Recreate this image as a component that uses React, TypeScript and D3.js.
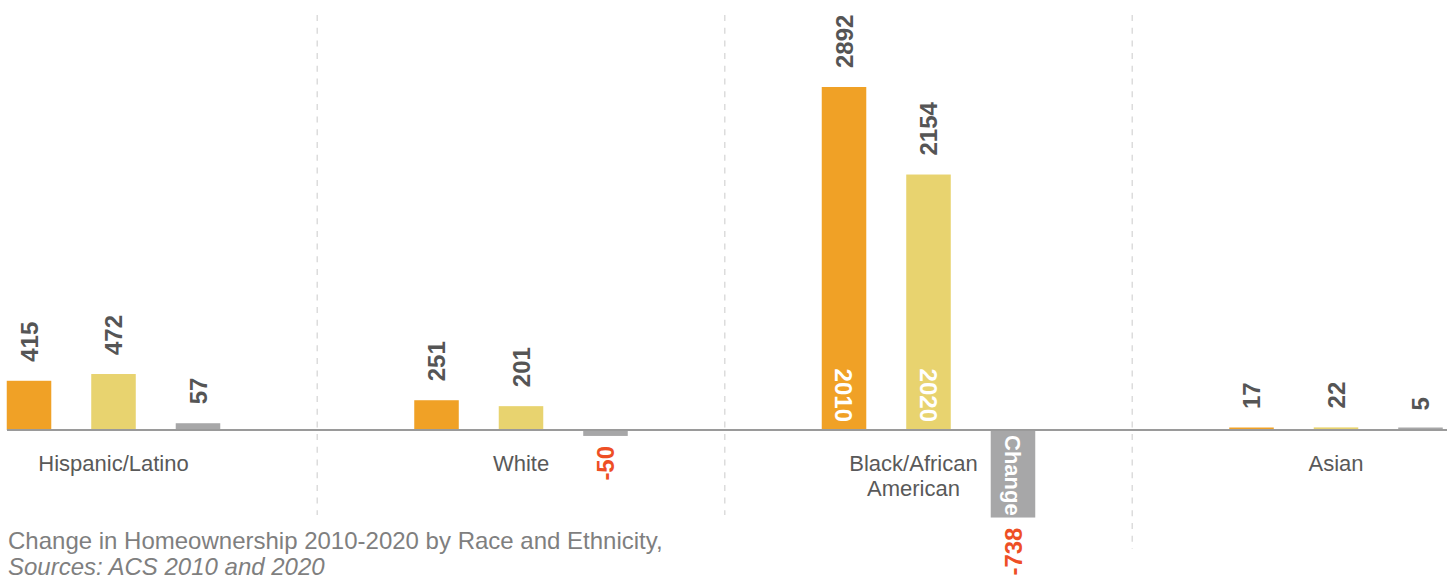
import React from "react";
import * as d3 from "d3";

const categories = ["Hispanic/Latino", "White", "Black/African American", "Asian"];
const categoryLines = [["Hispanic/Latino"], ["White"], ["Black/African", "American"], ["Asian"]];
const seriesNames = ["2010", "2020", "Change"];
const values2010 = [415, 251, 2892, 17];
const values2020 = [472, 201, 2154, 22];
const valuesChange = [57, -50, -738, 5];
const seriesColors = ["#F0A126", "#E8D36F", "#A7A7A8"];
const footnote = "Change in Homeownership 2010-2020 by Race and Ethnicity,";
const sources = "Sources: ACS 2010 and 2020";
const seriesLabelCategory = "Black/African American";

const W = 1456;
const H = 579;
const FONT = "'Liberation Sans', Arial, Helvetica, sans-serif";

export default function App() {
  const seriesValues = [values2010, values2020, valuesChange];
  const x0 = d3.scaleBand<string>().domain(categories).range([-90.25, 1539.75]).padding(0);
  const x1 = d3.scaleBand<string>().domain(seriesNames).range([-106.75, 106.75]).paddingInner(0.473).paddingOuter(0);
  const y = d3.scaleLinear().domain([0, 2892]).range([430, 87]);
  const step = x0.step();

  const bars: any[] = [];
  categories.forEach((c, ci) => {
    seriesNames.forEach((s, si) => {
      const v = seriesValues[si][ci];
      const cx = (x0(c) as number) + step / 2;
      const bx = cx + (x1(s) as number);
      bars.push({ c, s, v, bx, ci, si });
    });
  });

  return (
    <svg width={W} height={H} style={{ position: "absolute", left: 0, top: 0, background: "#fff" }} fontFamily={FONT}>
      {categories.slice(0, -1).map((c, i) => {
        const sx = (x0(c) as number) + step;
        return (
          <line key={c} x1={sx} x2={sx} y1={15} y2={549} stroke="#DCDCDC" strokeWidth={1.5} strokeDasharray="6,6.7" />
        );
      })}
      <rect x={0} y={515} width={1100} height={64} fill="#fff" />
      {bars.map((b, i) => {
        const h = Math.max(2.5, Math.abs(y(b.v) - y(0)));
        return (
          <rect
            key={i}
            x={b.bx}
            width={x1.bandwidth()}
            y={b.v < 0 ? y(0) : y(0) - h}
            height={h}
            fill={seriesColors[b.si]}
          />
        );
      })}
      <line x1={7} x2={1447} y1={y(0)} y2={y(0)} stroke="#9A9A9A" strokeWidth={2} />
      {bars.map((b, i) => {
        const tx = b.bx + x1.bandwidth() / 2;
        const neg = b.v < 0;
        const ty = neg ? y(b.v) + 10 : y(b.v) - 19;
        return (
          <text
            key={"v" + i}
            transform={`translate(${tx},${ty}) rotate(-90)`}
            textAnchor={neg ? "end" : "start"}
            dy="0.36em"
            fontSize={24}
            fontWeight="bold"
            fill={neg ? "#EE4F25" : "#555555"}
          >
            {b.v}
          </text>
        );
      })}
      {bars
        .filter((b) => b.c === seriesLabelCategory)
        .map((b, i) => {
          const tx = b.bx + x1.bandwidth() / 2;
          const neg = b.v < 0;
          const ty = neg ? y(0) + 5 : y(0) - 8;
          return (
            <text
              key={"s" + i}
              transform={`translate(${tx},${ty}) rotate(90)`}
              textAnchor={neg ? "start" : "end"}
              dy="0.36em"
              fontSize={b.s === "Change" ? 22 : 24}
              fontWeight="bold"
              fill="#ffffff"
            >
              {b.s}
            </text>
          );
        })}
      {categories.map((c, ci) => {
        const cx = (x0(c) as number) + step / 2;
        const multi = categoryLines[ci].length > 1;
        const ax = multi ? cx - 15 : cx;
        return (
          <text key={"c" + c} x={ax} y={471} textAnchor="middle" fontSize={22} fill="#595959">
            {categoryLines[ci].map((l, li) => (
              <tspan key={li} x={ax} dy={li === 0 ? 0 : 24.5}>
                {l}
              </tspan>
            ))}
          </text>
        );
      })}
      <text x={8} y={549} fontSize={24} fill="#7F7F7F">
        {footnote}
      </text>
      <text x={8} y={575} fontSize={24} fill="#7F7F7F" fontStyle="italic">
        {sources}
      </text>
    </svg>
  );
}
